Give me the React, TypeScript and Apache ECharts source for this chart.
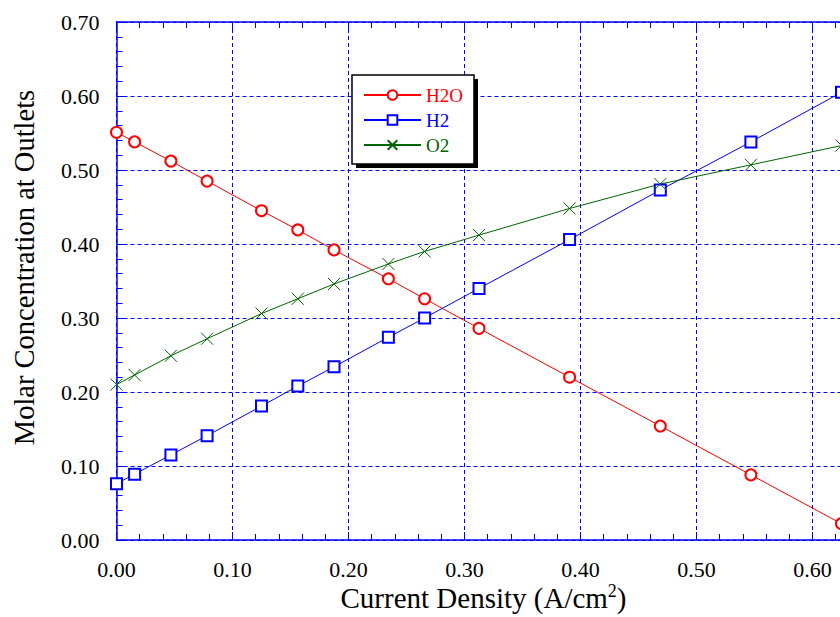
import React, { useEffect, useRef } from "react";
import * as echarts from "echarts";

const currentDensity = [0, 0.0156, 0.0469, 0.0781, 0.125, 0.1563, 0.1875, 0.2344, 0.2656, 0.3125, 0.3906, 0.4688, 0.5469, 0.625];
const h2oValues = [0.551, 0.538, 0.512, 0.485, 0.445, 0.419, 0.392, 0.353, 0.326, 0.286, 0.220, 0.154, 0.088, 0.022];
const h2Values = [0.076, 0.089, 0.115, 0.141, 0.181, 0.208, 0.234, 0.274, 0.300, 0.340, 0.406, 0.473, 0.538, 0.605];
const o2Values = [0.210, 0.223, 0.249, 0.272, 0.306, 0.326, 0.346, 0.373, 0.390, 0.412, 0.448, 0.481, 0.507, 0.533];
const seriesNames = ["H2O", "H2", "O2"];

const FONT = "Liberation Serif";
const RED = "#ff0000";
const BLUE = "#0000ff";
const GREEN = "#006400";

function pairs(ys: number[]) {
  return currentDensity.map((x, i) => [x, ys[i]]);
}

export default function App() {
  const ref = useRef<HTMLDivElement>(null);
  useEffect(() => {
    if (!ref.current) return;
    const chart = echarts.init(ref.current, undefined, { renderer: "svg" });
    const gridLine = { show: true, lineStyle: { color: BLUE, type: [4, 3] as any, width: 1 } };
    const axisLine = { show: true, lineStyle: { color: BLUE, width: 1.5 } };
    const label = {
      fontFamily: FONT,
      fontSize: 22,
      color: "#000",
      formatter: (v: number) => v.toFixed(2),
    };
    chart.setOption({
      animation: false,
      backgroundColor: "#fff",
      grid: { left: 116.5, top: 22, right: -88.5, bottom: 77, containLabel: false, outerBoundsMode: "none" } as any,
      xAxis: [
        {
          type: "value",
          min: 0,
          max: 0.7,
          interval: 0.1,
          position: "bottom",
          axisLine,
          axisTick: { show: true, inside: true, length: 8, lineStyle: { color: BLUE } },
          minorTick: { show: true, splitNumber: 5, length: 6, lineStyle: { color: BLUE } },
          splitLine: gridLine,
          axisLabel: { ...label, margin: 18, showMaxLabel: false },
        },
        {
          type: "value",
          min: 0,
          max: 0.7,
          interval: 0.1,
          position: "top",
          axisLine,
          axisTick: { show: true, inside: true, length: 8, lineStyle: { color: BLUE } },
          minorTick: { show: true, splitNumber: 5, length: 6, lineStyle: { color: BLUE } },
          splitLine: { show: false },
          axisLabel: { show: false },
        },
      ],
      yAxis: {
        type: "value",
        min: 0,
        max: 0.7,
        interval: 0.1,
        axisLine,
        axisTick: { show: true, inside: true, length: 8, lineStyle: { color: BLUE } },
        minorTick: { show: true, splitNumber: 5, length: 6, lineStyle: { color: BLUE } },
        splitLine: gridLine,
        axisLabel: { ...label, margin: 17 },
      },
      legend: {
        orient: "vertical",
        left: 363,
        top: 85.5,
        padding: 0,
        itemWidth: 57,
        itemHeight: 12,
        itemGap: 6,
        z: 20,
        textStyle: { fontFamily: FONT, fontSize: 19, lineHeight: 19 },
        data: [
          { name: seriesNames[0], textStyle: { color: RED } },
          { name: seriesNames[1], textStyle: { color: BLUE } },
          { name: seriesNames[2], textStyle: { color: GREEN } },
        ],
      },
      graphic: [
        { type: "rect", z: 10, shape: { x: 356, y: 79, width: 122, height: 89 }, style: { fill: "#000" } },
        { type: "rect", z: 11, shape: { x: 352, y: 75, width: 122, height: 89 }, style: { fill: "#fff", stroke: "#000", lineWidth: 1.5 } },
        {
          type: "text",
          z: 12,
          x: 24,
          y: 267.5,
          rotation: Math.PI / 2,
          style: {
            text: "Molar Concentration at Outlets",
            fontFamily: FONT,
            fontSize: 28.5,
            fill: "#000",
            align: "center",
            verticalAlign: "middle",
          },
        },
        {
          type: "text",
          z: 12,
          x: 483.5,
          y: 598,
          style: {
            text: "{m|Current Density (A/cm}{s|2}{m|)}",
            fontFamily: FONT,
            align: "center",
            verticalAlign: "middle",
            rich: {
              m: { fontFamily: FONT, fontSize: 29, lineHeight: 32, fill: "#000", color: "#000" } as any,
              s: { fontFamily: FONT, fontSize: 18, lineHeight: 18, verticalAlign: "top", fill: "#000", color: "#000" } as any,
            },
          } as any,
        },
      ],
      series: [
        {
          name: seriesNames[0],
          type: "line",
          data: pairs(h2oValues),
          symbol: "emptyCircle",
          symbolSize: 11,
          lineStyle: { color: RED, width: 1 },
          itemStyle: { color: RED, borderColor: RED, borderWidth: 1 },
          z: 5,
        },
        {
          name: seriesNames[1],
          type: "line",
          data: pairs(h2Values),
          symbol: "emptyRect",
          symbolSize: 11,
          lineStyle: { color: BLUE, width: 1 },
          itemStyle: { color: BLUE, borderColor: BLUE, borderWidth: 1 },
          z: 5,
        },
        {
          name: seriesNames[2],
          type: "line",
          data: pairs(o2Values),
          symbol: "path://M0,0L10,10M0,10L10,0",
          symbolSize: 12,
          lineStyle: { color: GREEN, width: 1 },
          itemStyle: { color: GREEN, borderColor: GREEN, borderWidth: 1 },
          z: 5,
        },
      ],
    });
    return () => chart.dispose();
  }, []);
  return (
    <div
      ref={ref}
      style={{ position: "fixed", left: 0, top: 0, width: 840, height: 617, overflow: "hidden" }}
    />
  );
}
